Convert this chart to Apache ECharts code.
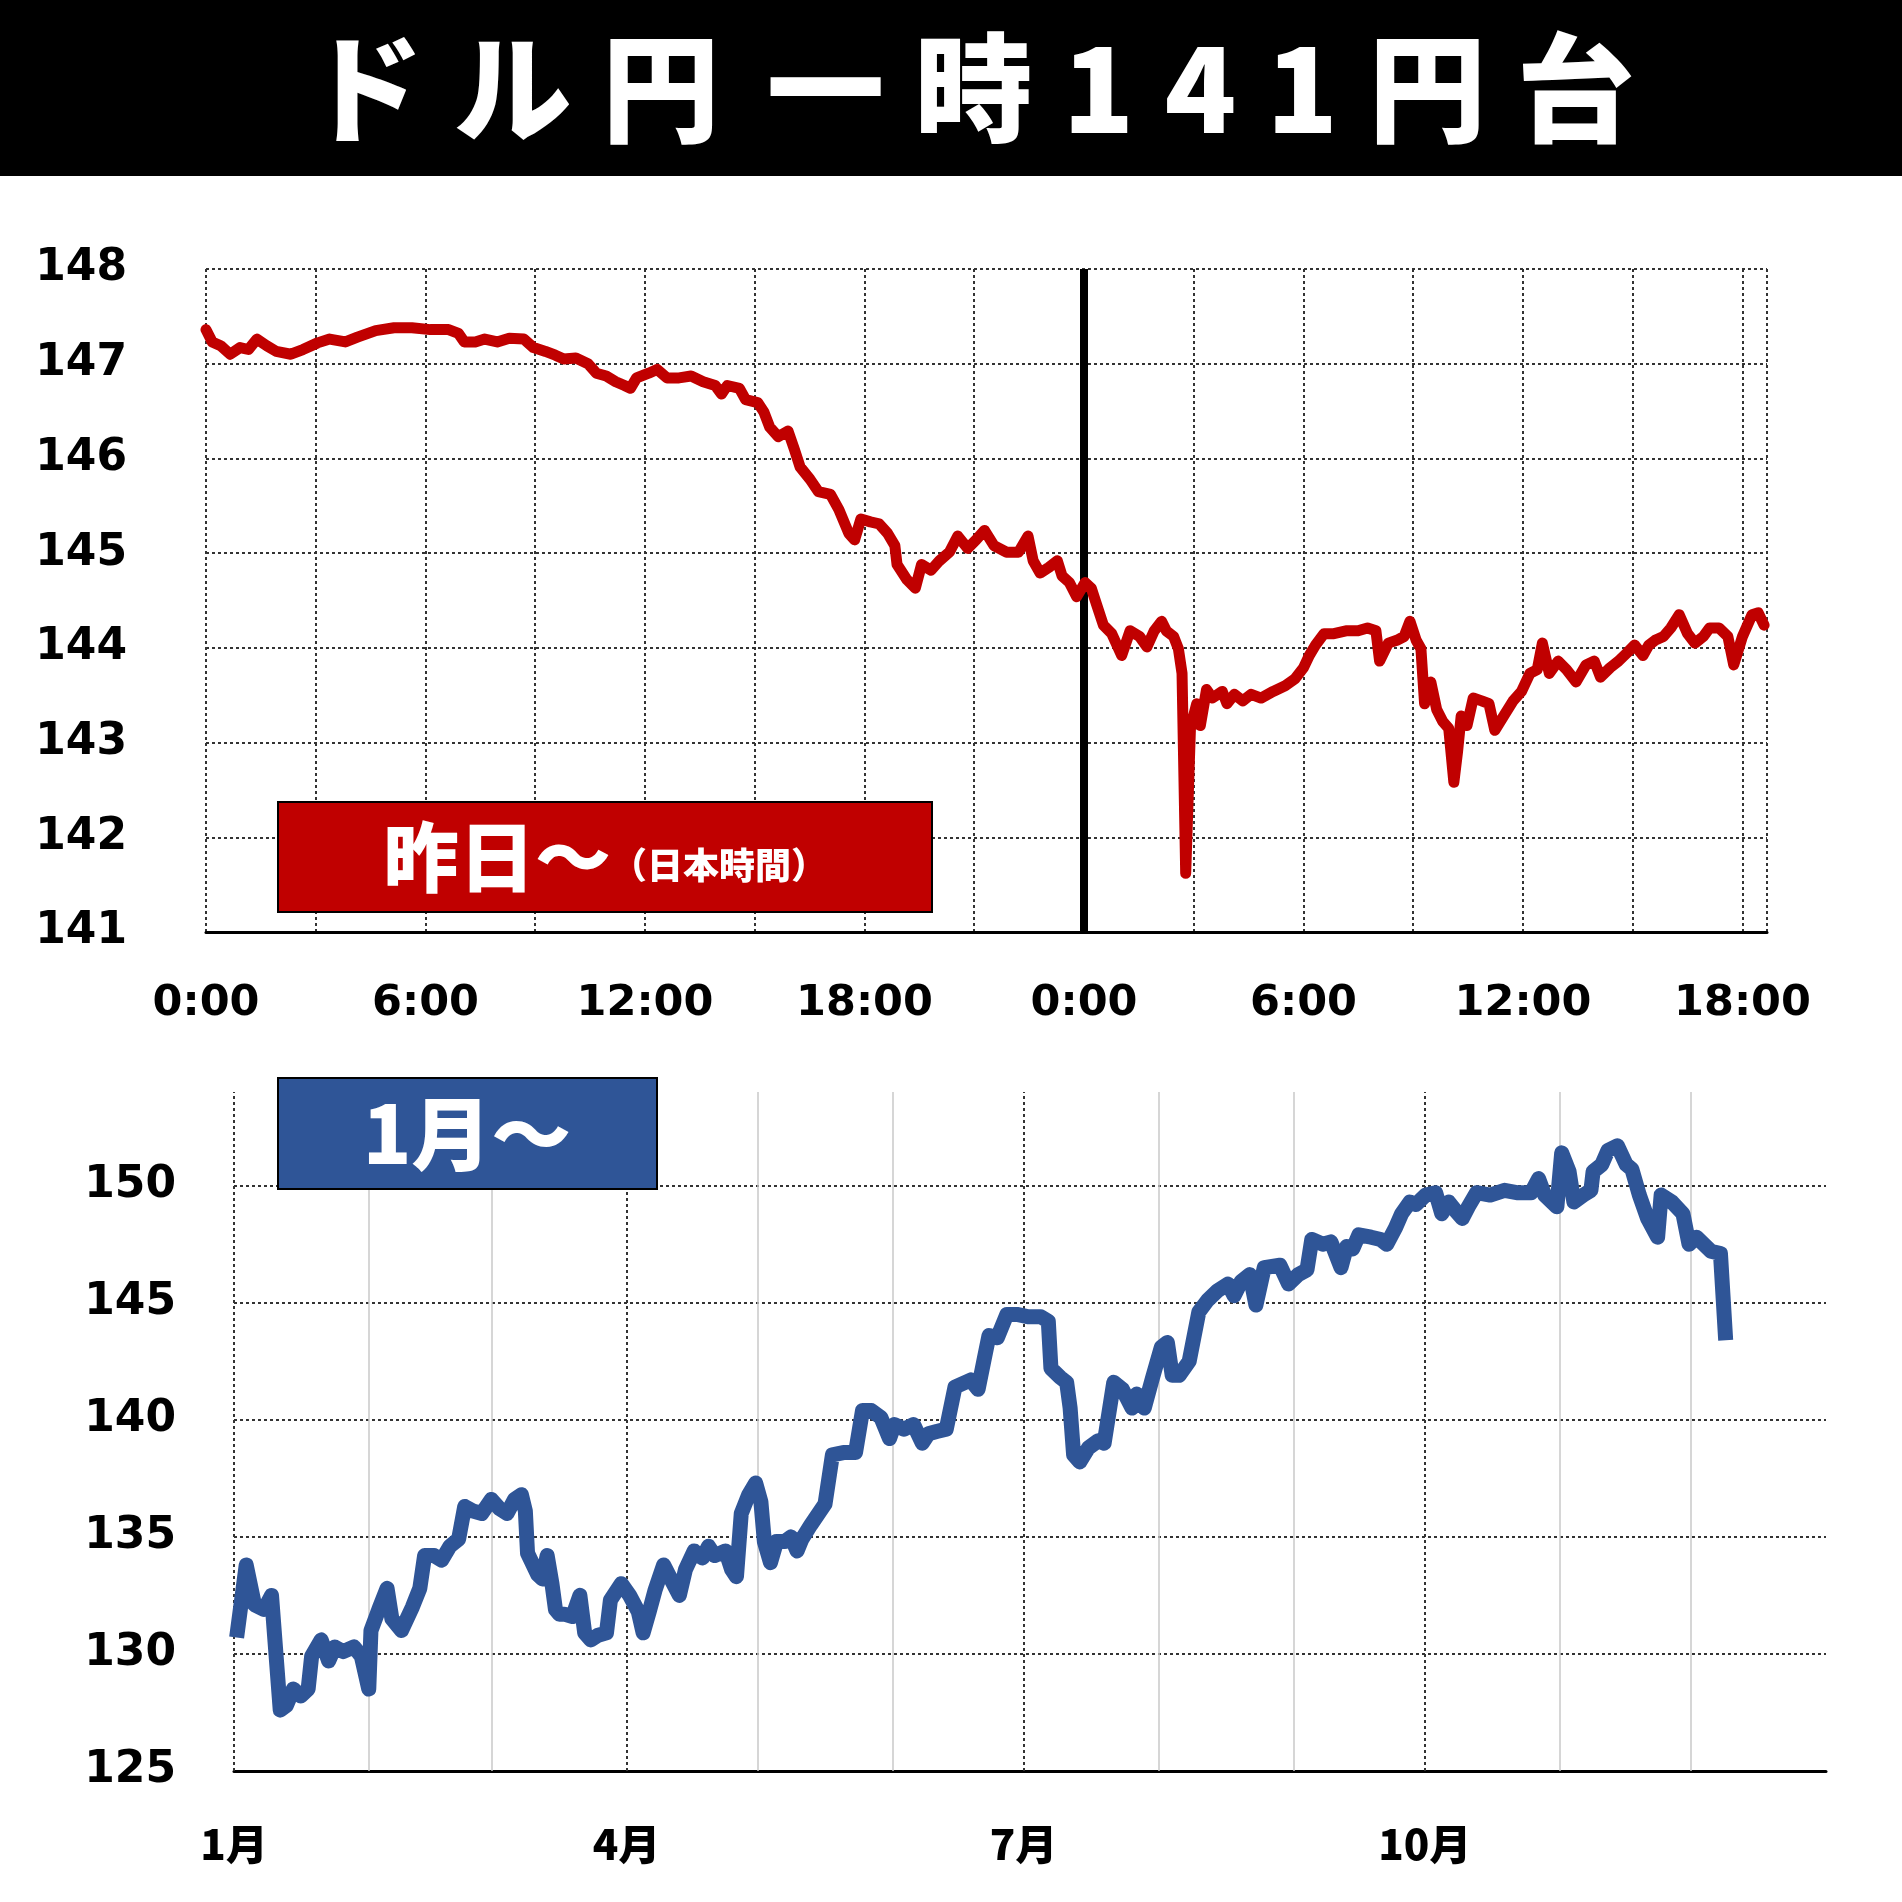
<!DOCTYPE html>
<html><head><meta charset="utf-8">
<script src="https://cdn.jsdelivr.net/npm/echarts@6/dist/echarts.min.js"></script>
<style>html,body{margin:0;padding:0;background:#fff}#c{width:1902px;height:1902px}</style>
</head><body><div id="c"></div>
<script>
// intraday (hours since yesterday 0:00, JST)
var dayHours = [0,0.17,0.4,0.66,0.93,1.16,1.39,1.66,1.92,2.32,2.65,3.05,3.38,3.81,4.14,4.64,5.14,5.63,6.13,6.63,6.9,7.06,7.36,7.62,7.96,8.29,8.69,8.95,9.28,9.55,9.78,10.11,10.44,10.67,10.94,11.2,11.44,11.6,11.77,12.1,12.33,12.6,12.93,13.26,13.59,13.92,14.09,14.25,14.58,14.75,15.08,15.25,15.41,15.64,15.91,16.08,16.24,16.51,16.74,17.07,17.3,17.57,17.73,17.9,18.16,18.4,18.63,18.83,18.89,19.16,19.39,19.56,19.82,20.05,20.32,20.55,20.82,21.05,21.28,21.54,21.88,22.21,22.47,22.61,22.8,23.04,23.27,23.4,23.6,23.8,24.03,24.2,24.36,24.53,24.76,25.03,25.26,25.52,25.72,25.92,26.12,26.25,26.45,26.58,26.68,26.78,26.91,27.08,27.18,27.35,27.51,27.78,27.91,28.11,28.34,28.57,28.84,29.17,29.5,29.76,30,30.16,30.33,30.56,30.83,31.16,31.49,31.75,31.98,32.08,32.32,32.55,32.75,32.91,33.08,33.21,33.31,33.48,33.64,33.81,33.97,34.11,34.21,34.31,34.47,34.64,34.87,35.07,35.23,35.47,35.73,35.96,36.19,36.39,36.53,36.72,36.96,37.19,37.45,37.72,37.95,38.12,38.38,38.61,38.85,39.05,39.28,39.44,39.61,39.84,40.04,40.27,40.5,40.7,40.93,41.1,41.36,41.6,41.76,42,42.26,42.43,42.59];
var dayRates = [147.36,147.23,147.19,147.1,147.17,147.15,147.26,147.19,147.13,147.1,147.15,147.22,147.26,147.23,147.28,147.35,147.38,147.38,147.36,147.36,147.32,147.23,147.23,147.26,147.23,147.27,147.26,147.17,147.13,147.09,147.05,147.06,147,146.9,146.87,146.81,146.77,146.74,146.85,146.9,146.94,146.85,146.85,146.87,146.81,146.77,146.68,146.77,146.74,146.62,146.59,146.49,146.33,146.23,146.29,146.1,145.91,145.78,145.65,145.62,145.46,145.21,145.14,145.36,145.33,145.31,145.21,145.08,144.88,144.72,144.63,144.88,144.82,144.92,145.01,145.18,145.05,145.14,145.24,145.08,145.01,145.01,145.18,144.92,144.79,144.85,144.92,144.76,144.69,144.54,144.69,144.63,144.44,144.24,144.15,143.92,144.18,144.12,144.01,144.18,144.28,144.18,144.12,143.99,143.73,141.62,143.15,143.41,143.18,143.56,143.47,143.54,143.41,143.51,143.44,143.51,143.47,143.54,143.6,143.67,143.79,143.92,144.03,144.15,144.15,144.18,144.18,144.21,144.18,143.86,144.05,144.08,144.12,144.28,144.08,143.99,143.41,143.64,143.35,143.22,143.15,142.58,142.9,143.28,143.18,143.47,143.44,143.41,143.13,143.28,143.44,143.54,143.73,143.77,144.05,143.73,143.86,143.77,143.64,143.82,143.86,143.69,143.79,143.86,143.95,144.03,143.92,144.03,144.08,144.12,144.21,144.35,144.15,144.05,144.12,144.21,144.21,144.12,143.82,144.12,144.35,144.37,144.24];

// since January (day of year)
var yearDays = [0.6,2.8,4.7,6.9,8.6,10.6,12,13.6,15.3,17,17.8,20,21.7,23.1,25,27.5,29.2,30.9,31.4,33.4,35.1,36.2,38.4,40.9,42.6,43.7,45.9,47.6,49.5,51.5,52.9,54.8,56.8,59,60.9,62.6,64.3,65.9,66.8,67.3,69.6,70.7,71.8,72.9,73.7,74.6,75.7,77.6,79.3,80.4,81.8,83.5,85.4,86.3,88.8,90.7,92.7,93.8,95.2,96.5,98.5,100.7,102.1,103.5,105.5,107.4,108.8,110.2,112.7,114.1,115.2,116.3,118,119.6,120.8,121.6,123,124.4,126.3,127.7,129.1,130.2,132.2,135.5,137.2,139.7,142.5,144.1,146.1,148.3,150.3,151.4,153.6,155.8,157.8,159.2,161.1,163.3,165.3,168.9,170.6,172,173.1,175,177.2,179.5,182.2,185,186.7,187.3,189.5,190.9,191.7,192.5,193.9,195.9,198.1,199.5,201.7,203.7,205.9,207,208.7,210.6,212.6,214,215.1,216.7,219,221.2,223.2,225.4,227.9,229.3,230.9,232.9,234.3,236.2,239.8,241.8,244,246,247.1,249.6,251.5,253.8,255.1,256.5,257.9,260.7,262.9,264.3,266.3,267.7,269.6,271,273.2,275.5,276.9,278.5,280.2,281.6,283,284.9,288,291.3,294.1,297.4,299.1,300.5,303.3,304.4,306.1,307.2,309.4,311.1,311.6,313.6,315,317.2,319.2,320.5,322.2,324.1,326.4,327.2,329.7,332.2,333.6,335.3,338.6,340.8,342];
var yearRates = [130.7,133.8,132.1,131.9,132.5,127.6,127.8,128.5,128.2,128.5,129.9,130.6,129.7,130.3,130.1,130.3,129.9,128.5,131,132,132.8,131.5,131,132,132.8,134.2,134.2,134,134.6,134.9,136.3,136.1,136,136.6,136.2,136,136.6,136.8,136.1,134.3,133.4,133.2,134.2,133,131.9,131.7,131.7,131.6,132.5,130.9,130.6,130.8,130.9,132.3,133,132.5,131.8,130.9,131.8,132.7,133.8,133,132.5,133.6,134.4,134.1,134.6,134.2,134.4,133.6,133.3,136,136.8,137.3,136.5,134.8,133.9,134.8,134.8,135,134.4,134.9,135.5,136.4,138.5,138.6,138.6,140.4,140.4,140.1,139.2,139.8,139.6,139.8,139,139.4,139.5,139.6,141.4,141.7,141.3,142.6,143.6,143.5,144.5,144.5,144.4,144.4,144.2,142.2,141.8,141.6,140.5,138.5,138.2,138.8,139.1,139,141.6,141.3,140.5,141.1,140.5,141.8,143.1,143.3,141.9,141.9,142.5,144.6,145.1,145.5,145.8,145.3,145.9,146.2,144.9,146.5,146.6,145.8,146.2,146.4,147.7,147.5,147.6,146.5,147.4,147.3,147.9,147.8,147.7,147.5,148.2,148.8,149.3,149.2,149.6,149.7,148.8,149.3,148.9,148.6,149.1,149.7,149.6,149.8,149.7,149.7,150.3,149.6,149.1,151.4,150.6,149.3,149.6,149.8,150.6,150.9,151.5,151.7,150.9,150.7,149.6,148.6,147.8,149.6,149.3,148.8,147.5,147.8,147.2,147.1,143.4];

var quarterDays = [0, 90, 181, 273];
var quarterLabels = ['1月', '4月', '7月', '10月'];
var monthDays = [31, 59, 120, 151, 212, 243, 304, 334];
var titleText = 'ドル円 一時141円台';

var LAT = 'DejaVu Sans';
var CJK = 'Noto Sans CJK JP';
var dotted = {color: '#333', width: 2, type: [3, 3]};

function pair(xs, ys) { return xs.map(function (x, i) { return [x, ys[i]]; }); }

// spread title characters out
var titleRich = {c: {fill: '#fff', fontFamily: CJK, fontWeight: 900, fontSize: 118, padding: [0, 15]},
                 s: {fontSize: 60}};
var titleStr = titleText.split('').map(function (ch) {
    return ch === ' ' ? '{s| }' : '{c|' + ch + '}';
}).join('');

var chart = echarts.init(document.getElementById('c'));
chart.setOption({
    animation: false,
    backgroundColor: '#fff',
    grid: [
        {left: 206, right: 135, top: 269, height: 663},
        {left: 234, right: 76, top: 1092, height: 679}
    ],
    xAxis: [{
        gridIndex: 0, type: 'value', min: 0, max: 42.67, interval: 3,
        axisLine: {lineStyle: {color: '#000', width: 3}},
        axisTick: {show: false},
        axisLabel: {
            margin: 50, color: '#000', fontFamily: LAT, fontWeight: 'bold', fontSize: 43,
            formatter: function (v) { return (v % 6 === 0) ? (v % 24) + ':00' : ''; }
        },
        splitLine: {show: true, lineStyle: dotted}
    }, {
        gridIndex: 1, type: 'value', min: 0, max: 365,
        axisLine: {lineStyle: {color: '#000', width: 3}},
        axisTick: {show: false},
        axisLabel: {
            customValues: quarterDays, margin: 52, color: '#000', fontFamily: CJK, fontWeight: 900, fontSize: 42,
            formatter: function (v) { return quarterLabels[quarterDays.indexOf(v)]; }
        },
        splitLine: {show: false}
    }],
    yAxis: [{
        gridIndex: 0, type: 'value', min: 141, max: 148, interval: 1,
        axisLine: {show: false}, axisTick: {show: false},
        axisLabel: {margin: 79, color: '#000', fontFamily: LAT, fontWeight: 'bold', fontSize: 44},
        splitLine: {lineStyle: dotted}
    }, {
        gridIndex: 1, type: 'value', min: 125, max: 154, interval: 5,
        axisLine: {show: false}, axisTick: {show: false},
        axisLabel: {margin: 58, color: '#000', fontFamily: LAT, fontWeight: 'bold', fontSize: 44,
            customValues: [125, 130, 135, 140, 145, 150]},
        splitLine: {show: false}
    }],
    series: [{
        type: 'line', xAxisIndex: 0, yAxisIndex: 0, data: pair(dayHours, dayRates),
        showSymbol: false, z: 5,
        lineStyle: {color: '#c00000', width: 11, join: 'round', cap: 'round'},
        markLine: {
            silent: true, symbol: 'none', label: {show: false},
            lineStyle: {color: '#000', width: 8, type: 'solid'},
            data: [{xAxis: 24}]
        }
    }, {
        type: 'line', xAxisIndex: 1, yAxisIndex: 1, data: pair(yearDays, yearRates),
        showSymbol: false, z: 5,
        lineStyle: {color: '#2f5597', width: 15, join: 'round'},
        markLine: {
            silent: true, symbol: 'none', label: {show: false}, z: 1,
            data: [130, 135, 140, 145, 150].map(function (v) {
                return {yAxis: v, lineStyle: dotted};
            }).concat(quarterDays.map(function (d) {
                return {xAxis: d, lineStyle: dotted};
            })).concat(monthDays.map(function (d) {
                return {xAxis: d, lineStyle: {color: '#c8c8c8', width: 1.5, type: 'solid'}};
            }))
        }
    }],
    graphic: [
        {type: 'rect', shape: {x: 0, y: 0, width: 1902, height: 176}, style: {fill: '#000'}},
        {type: 'text', x: 970, y: 88, style: {
            text: titleStr, rich: titleRich, align: 'center', verticalAlign: 'middle'}},
        {type: 'rect', shape: {x: 278, y: 802, width: 654, height: 110},
            style: {fill: '#c00000', stroke: '#000', lineWidth: 2}, z: 10},
        {type: 'text', x: 605, y: 857, z: 11, style: {
            text: '{a|昨日～}{b|（日本時間）}', align: 'center', verticalAlign: 'middle',
            rich: {
                a: {fill: '#fff', fontFamily: CJK, fontWeight: 900, fontSize: 76},
                b: {fill: '#fff', fontFamily: CJK, fontWeight: 900, fontSize: 36, padding: [16, 0, 0, 0]}
            }}},
        {type: 'rect', shape: {x: 278, y: 1078, width: 379, height: 111},
            style: {fill: '#2f5597', stroke: '#000', lineWidth: 2}, z: 10},
        {type: 'text', x: 467, y: 1134, z: 11, style: {
            text: '1月～', fill: '#fff', font: '900 80px "Noto Sans CJK JP"',
            align: 'center', verticalAlign: 'middle'}}
    ]
});
</script>
</body></html>
